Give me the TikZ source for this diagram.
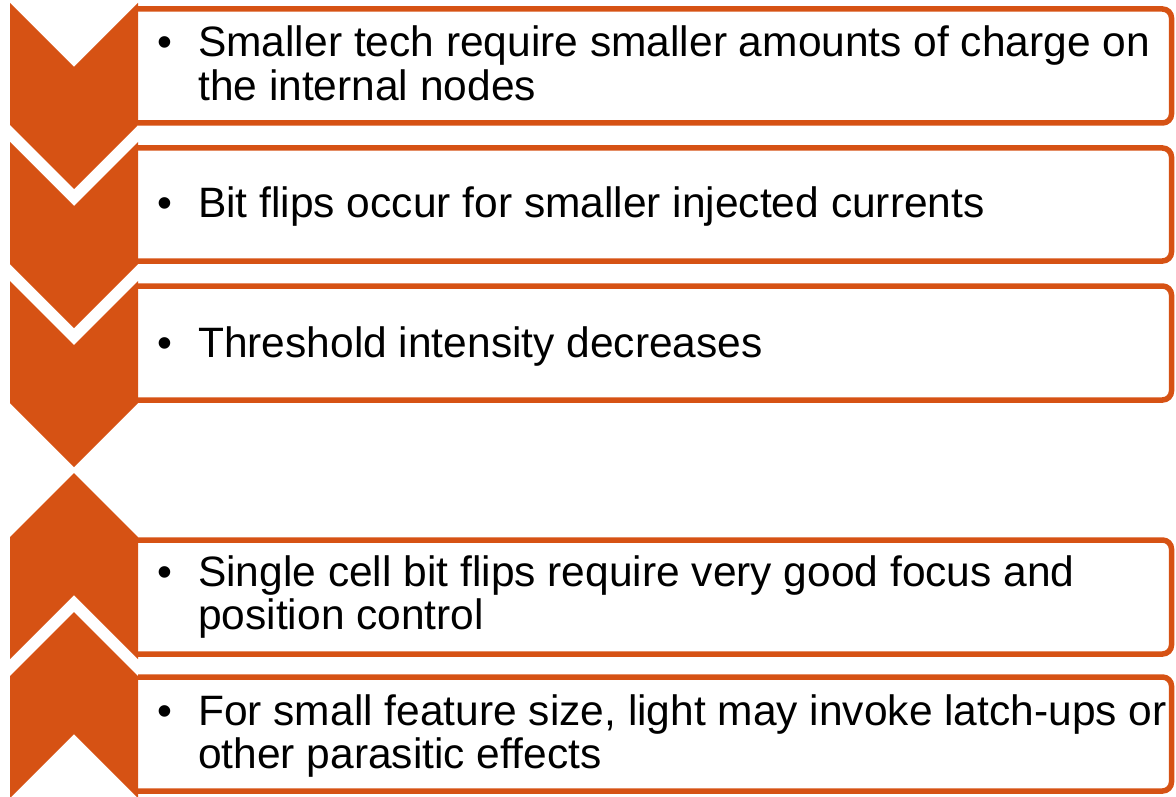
\documentclass[tikz,border=0pt]{standalone}
\usepackage{fontspec}
\setmainfont{Liberation Sans}
\usepackage{xcolor}
\usepackage{tikz}
\usetikzlibrary{positioning}

\definecolor{chevron}{RGB}{214,82,20}
\newcommand{\bulletitem}[1]{\begin{tabular}[t]{@{}p{39.5pt}@{}l@{}}\hspace{-1pt}\textbullet & #1\end{tabular}}

\begin{document}
\begin{tikzpicture}[x=1pt,y=-1pt,
		chev/.style={fill=chevron},
		itembox/.style={draw=chevron, line width=5.5pt, rounded corners=9pt},
		itemtext/.style={anchor=base west, inner sep=0pt, font=\fontsize{42.5}{42}\selectfont}]
		\useasboundingbox (0,0) rectangle (1176,797);

		% boxes
		\draw[itembox] (138,9) -- (1171.5,9) -- (1171.5,123) -- (138,123);
		\draw[itembox] (138,148) -- (1171.5,148) -- (1171.5,261) -- (138,261);
		\draw[itembox] (138,286) -- (1171.5,286) -- (1171.5,400) -- (138,400);
		\draw[itembox] (138,540) -- (1171.5,540) -- (1171.5,654) -- (138,654);
		\draw[itembox] (138,677) -- (1171.5,677) -- (1171.5,791) -- (138,791);

		% chevrons, upper group pointing down
		\fill[chev] (10,3) -- (74,67) -- (138,3) -- (138,125) -- (74,189) -- (10,125) -- cycle;
		\fill[chev] (10,142) -- (74,206) -- (138,142) -- (138,264) -- (74,328) -- (10,264) -- cycle;
		\fill[chev] (10,281) -- (74,345) -- (138,281) -- (138,403) -- (74,467) -- (10,403) -- cycle;

		% chevrons, lower group pointing up
		\fill[chev] (10,537) -- (74,473) -- (138,537) -- (138,659) -- (74,595) -- (10,659) -- cycle;
		\fill[chev] (10,676) -- (74,612) -- (138,676) -- (138,798) -- (74,734) -- (10,798) -- cycle;

		% texts
		\node[itemtext] (tech) at (158.5,57) {\bulletitem{Smaller tech require smaller amounts of charge on\\ & the internal nodes}};
		\node[itemtext] (flips) at (158.5,217) {\bulletitem{Bit flips occur for smaller injected currents}};
		\node[itemtext] (thres) at (158.5,357) {\bulletitem{Threshold intensity decreases}};
		\node[itemtext] (focus) at (158.5,586) {\bulletitem{Single cell bit flips require very good focus and\\ & position control}};
		\node[itemtext] (latch) at (158.5,725) {\bulletitem{For small feature size, light may invoke latch-ups or\\ & other parasitic effects}};
	\end{tikzpicture}
\end{document}
